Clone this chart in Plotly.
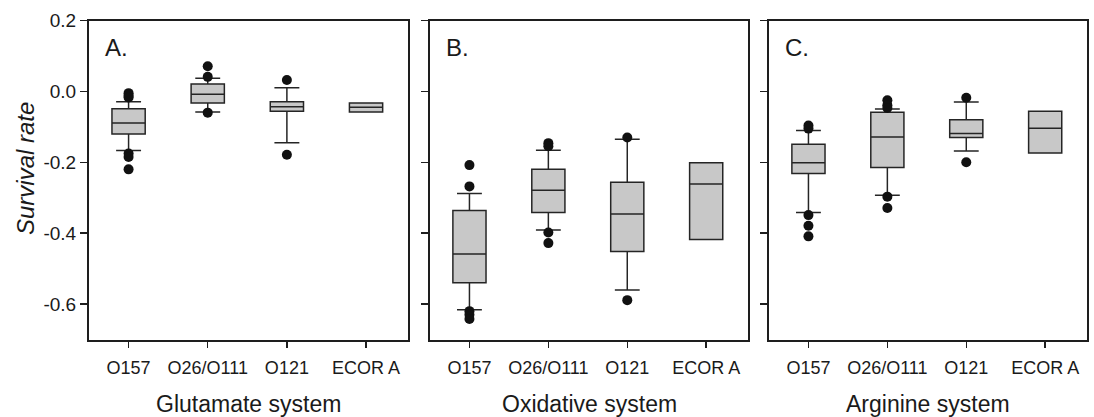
import plotly.graph_objects as go

categories = ["O157", "O26/O111", "O121", "ECOR A"]
panel_titles = ["Glutamate system", "Oxidative system", "Arginine system"]
panel_letters = ["A.", "B.", "C."]
y_tick_vals = [-0.6, -0.4, -0.2, 0.0, 0.2]
y_tick_text = ["-0.6", "-0.4", "-0.2", "0.0", "0.2"]

# Panel A: Glutamate system
glu_q1 = [-0.120, -0.033, -0.056, -0.058]
glu_median = [-0.089, -0.008, -0.043, -0.045]
glu_q3 = [-0.049, 0.021, -0.029, -0.033]
glu_lower = [-0.167, -0.058, -0.145, -0.058]
glu_upper = [-0.029, 0.037, 0.010, -0.033]
glu_out_x = ["O157", "O157", "O157", "O157", "O157", "O157",
             "O26/O111", "O26/O111", "O26/O111", "O121", "O121"]
glu_out_y = [-0.005, -0.012, -0.017, -0.175, -0.185, -0.220,
             0.071, 0.041, -0.060, 0.032, -0.179]

# Panel B: Oxidative system
oxi_q1 = [-0.540, -0.342, -0.452, -0.418]
oxi_median = [-0.459, -0.279, -0.346, -0.261]
oxi_q3 = [-0.336, -0.220, -0.256, -0.201]
oxi_lower = [-0.616, -0.391, -0.560, -0.418]
oxi_upper = [-0.288, -0.166, -0.135, -0.201]
oxi_out_x = ["O157", "O157", "O157", "O157", "O157",
             "O26/O111", "O26/O111", "O26/O111", "O26/O111", "O121", "O121"]
oxi_out_y = [-0.208, -0.268, -0.620, -0.630, -0.642,
             -0.146, -0.155, -0.398, -0.428, -0.130, -0.589]

# Panel C: Arginine system
arg_q1 = [-0.232, -0.215, -0.130, -0.174]
arg_median = [-0.201, -0.129, -0.119, -0.104]
arg_q3 = [-0.149, -0.059, -0.080, -0.056]
arg_lower = [-0.342, -0.293, -0.168, -0.174]
arg_upper = [-0.110, -0.050, -0.030, -0.056]
arg_out_x = ["O157", "O157", "O157", "O157", "O157",
             "O26/O111", "O26/O111", "O26/O111", "O26/O111", "O26/O111",
             "O121", "O121"]
arg_out_y = [-0.096, -0.105, -0.349, -0.379, -0.409,
             -0.025, -0.039, -0.047, -0.297, -0.329,
             -0.018, -0.200]

panels = [
    (glu_q1, glu_median, glu_q3, glu_lower, glu_upper, glu_out_x, glu_out_y),
    (oxi_q1, oxi_median, oxi_q3, oxi_lower, oxi_upper, oxi_out_x, oxi_out_y),
    (arg_q1, arg_median, arg_q3, arg_lower, arg_upper, arg_out_x, arg_out_y),
]

W, H = 1094, 417
x_px = [(89, 408), (430, 748), (769, 1087)]
y_top_px, y_bot_px = 20.5, 339.5
FONT = "Liberation Sans, Arial, sans-serif"
LINE = "#1e1e1e"
TXT = "#1a1a1a"

fig = go.Figure()
layout = dict(
    width=W, height=H, template="none",
    margin=dict(l=0, r=0, t=0, b=0),
    paper_bgcolor="white", plot_bgcolor="white",
    showlegend=False, font=dict(family=FONT, color=TXT),
)
annotations = []

for i, (q1, med, q3, lo, up, ox, oy) in enumerate(panels):
    xa = "x" if i == 0 else f"x{i+1}"
    ya = "y" if i == 0 else f"y{i+1}"
    fig.add_trace(go.Box(
        x=categories, q1=q1, median=med, q3=q3,
        lowerfence=lo, upperfence=up,
        boxpoints=False, width=0.42, whiskerwidth=0.75,
        fillcolor="#c8c8c8", line=dict(color="#252525", width=1.5),
        xaxis=xa, yaxis=ya, hoverinfo="skip",
    ))
    fig.add_trace(go.Scatter(
        x=ox, y=oy, mode="markers",
        marker=dict(color="#111111", size=10),
        xaxis=xa, yaxis=ya, hoverinfo="skip",
    ))
    x0, x1 = x_px[i]
    xkey = "xaxis" if i == 0 else f"xaxis{i+1}"
    ykey = "yaxis" if i == 0 else f"yaxis{i+1}"
    layout[xkey] = dict(
        domain=[x0 / W, x1 / W], anchor=ya,
        type="category", categoryorder="array", categoryarray=categories,
        range=[-0.5, 3.53], showgrid=False, zeroline=False,
        showline=True, mirror=True, linecolor=LINE, linewidth=2,
        ticks="outside", ticklen=6, tickwidth=1.5, tickcolor=LINE,
        tickfont=dict(family=FONT, size=18, color=TXT),
        ticklabelstandoff=5, automargin=False, fixedrange=True,
    )
    layout[ykey] = dict(
        domain=[(H - y_bot_px) / H, (H - y_top_px) / H],
        anchor=xa, range=[-0.7, 0.2],
        tickvals=y_tick_vals, ticktext=y_tick_text,
        showticklabels=(i == 0),
        showgrid=False, zeroline=False,
        showline=True, mirror=True, linecolor=LINE, linewidth=2,
        ticks="outside", ticklen=7, tickwidth=1.5, tickcolor=LINE,
        tickfont=dict(family=FONT, size=19, color=TXT),
        automargin=False, fixedrange=True,
    )
    annotations.append(dict(
        text=panel_titles[i], xref="paper", yref="paper",
        x=(x0 + x1) / 2 / W, y=(H - 404) / H,
        xanchor="center", yanchor="middle", showarrow=False,
        font=dict(family=FONT, size=23, color=TXT),
    ))
    annotations.append(dict(
        text=panel_letters[i], xref="paper", yref="paper",
        x=(x0 + 14) / W, y=(H - 48) / H,
        xanchor="left", yanchor="middle", showarrow=False,
        font=dict(family=FONT, size=24, color=TXT),
    ))

annotations.append(dict(
    text="<i>Survival rate</i>", xref="paper", yref="paper",
    x=25 / W, y=(H - 169) / H, textangle=-90,
    xanchor="center", yanchor="middle", showarrow=False,
    font=dict(family=FONT, size=24, color=TXT),
))
layout["annotations"] = annotations
fig.update_layout(**layout)
fig.write_html(
    "out.html",
    config={"displayModeBar": False, "staticPlot": True},
    post_script="document.body.style.margin='0px';document.body.style.overflow='hidden';",
)
